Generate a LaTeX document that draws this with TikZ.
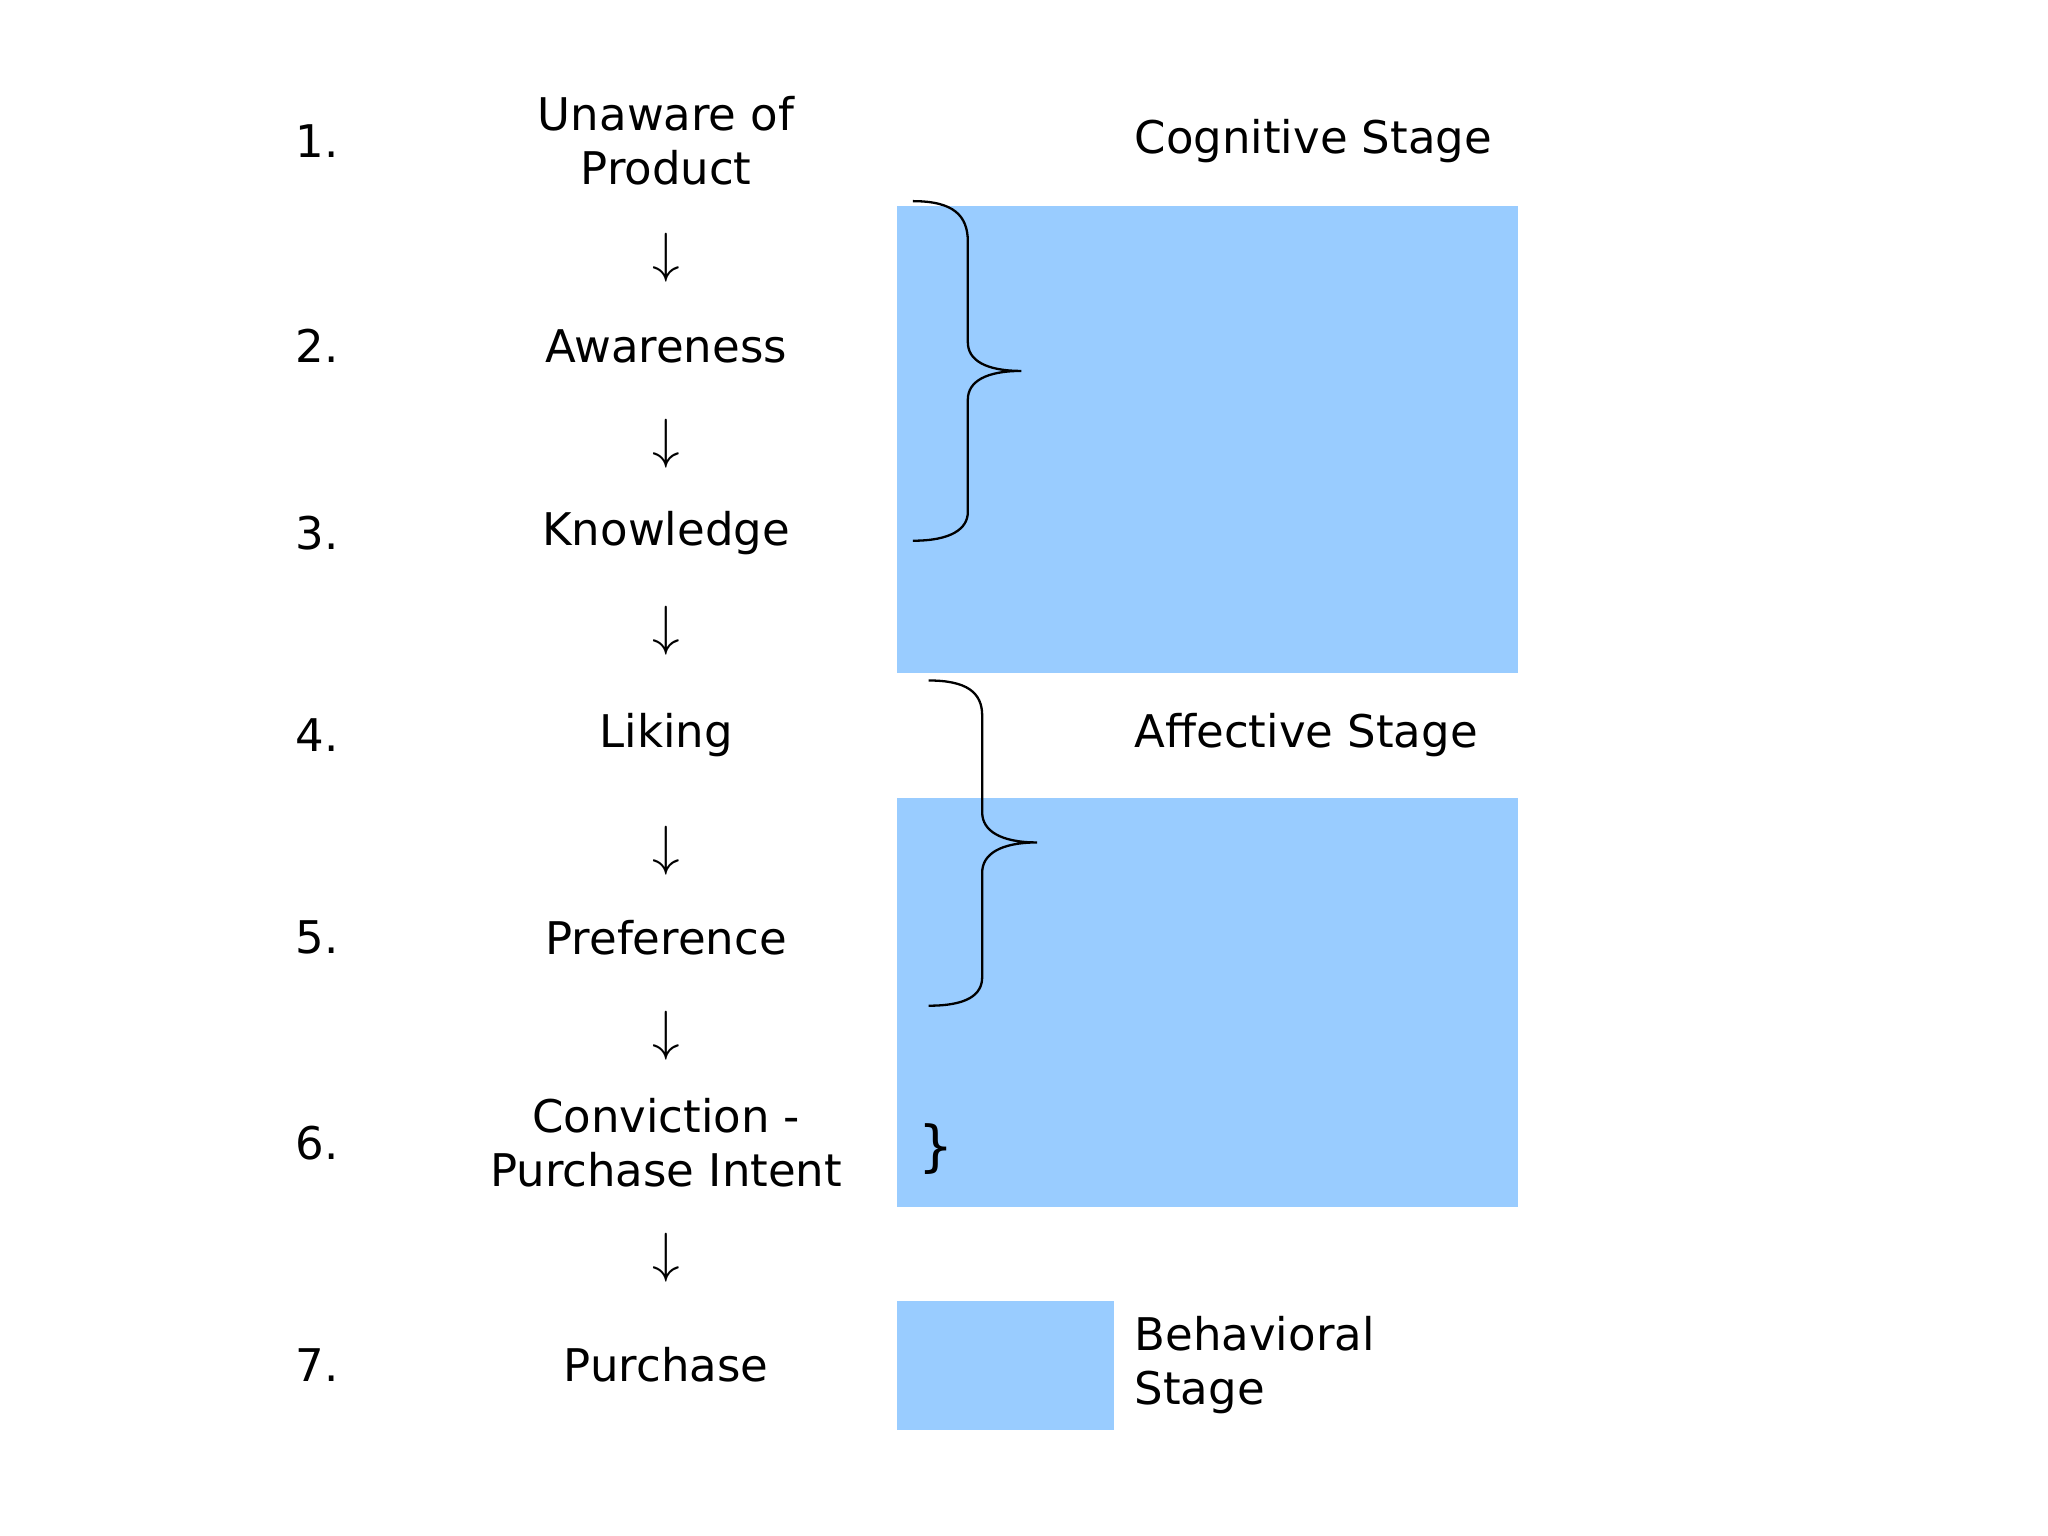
\documentclass[tikz,border=0pt]{standalone}
\usepackage{fontspec}
\setmainfont{DejaVu Sans}
\definecolor{stageblue}{RGB}{153,204,255}
\begin{document}
\begin{tikzpicture}[x=0.01cm,y=-0.01cm,
  txt/.style={font=\fontsize{9.8}{11.8}\selectfont, inner sep=0pt},
  lbl/.style={txt, align=center},
  num/.style={txt},
  arr/.style={font=\fontsize{12}{12}\selectfont, inner sep=0pt},
  stage/.style={txt, anchor=west, align=left},
  box/.style={fill=stageblue, draw=none},
  brace/.style={draw=black, line width=0.5pt}]
\useasboundingbox (0,0) rectangle (1568,1176);
\fill[box] (687,158) rectangle (1162,515);
\fill[box] (687,611) rectangle (1162,924);
\fill[box] (687,996) rectangle (853,1095);
\foreach \n/\y in {1/108,2/265,3/408,4/563,5/718,6/875,7/1045}
  \node[num] (n\n) at (243,\y) {\n.};
\node[lbl] (l1) at (510,108) {Unaware of\\Product};
\node[lbl] (l2) at (510,265) {Awareness};
\node[lbl] (l3) at (510,408) {Knowledge};
\node[lbl] (l4) at (510,563) {Liking};
\node[lbl] (l5) at (510,718) {Preference};
\node[lbl] (l6) at (510,875) {Conviction -\\Purchase Intent};
\node[lbl] (l7) at (510,1045) {Purchase};
\foreach \i/\y in {1/197,2/340,3/483,4/651,5/793,6/963}
  \node[arr] (a\i) at (510,\y) {$\downarrow$};
\node[stage] (s1) at (868,108) {Cognitive Stage};
\node[stage] (s2) at (868,563) {Affective Stage};
\node[stage] (s3) at (868,1045) {Behavioral\\Stage};
\node[txt] (sb) at (717,880) {\fontsize{12}{12}\selectfont\}};
\draw[brace] (699,154) .. controls (730,154) and (741,165) .. (741,185)
  -- (741,262) .. controls (741,276) and (755,284) .. (782,284)
  .. controls (755,284) and (741,292) .. (741,306)
  -- (741,392) .. controls (741,405) and (728,414) .. (699,414);
\draw[brace] (711,521) .. controls (740,521) and (752,530) .. (752,548)
  -- (752,622) .. controls (752,636) and (766,645) .. (794,645)
  .. controls (766,645) and (752,654) .. (752,668)
  -- (752,748) .. controls (752,762) and (740,770) .. (711,770);
\end{tikzpicture}
\end{document}
